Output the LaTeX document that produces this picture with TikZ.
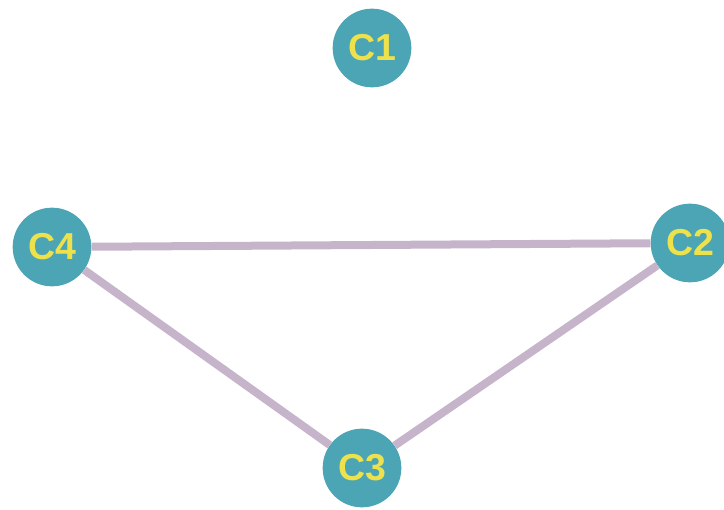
\documentclass[tikz,border=0pt]{standalone}
\usepackage{fontspec}
\setmainfont{Liberation Sans}
\usepackage{tikz}
\usetikzlibrary{positioning}
\definecolor{nodeteal}{HTML}{4BA5B4}
\definecolor{labelyellow}{HTML}{EDE24C}
\definecolor{edgelilac}{HTML}{C6B4CB}

\begin{document}
\begin{tikzpicture}[x=0.03cm, y=-0.03cm,
    cnode/.style={circle, fill=nodeteal, minimum size=2.36cm, inner sep=0pt,
      text=labelyellow, font=\fontsize{32}{32}\selectfont\bfseries},
    link/.style={edgelilac, line width=0.24cm}]
  \useasboundingbox (0,0) rectangle (724,510);
  % Knoten
  \node[cnode] (c1) at (372,48) {C1};
  \node[cnode] (c4) at (52,247) {C4};
  \node[cnode] (c2) at (690,243) {C2};
  \node[cnode] (c3) at (362,468) {C3};

  % Kanten
  \draw[link] (c4) -- (c2);
  \draw[link] (c4) -- (c3);
  \draw[link] (c3) -- (c2);
\end{tikzpicture}
\end{document}
